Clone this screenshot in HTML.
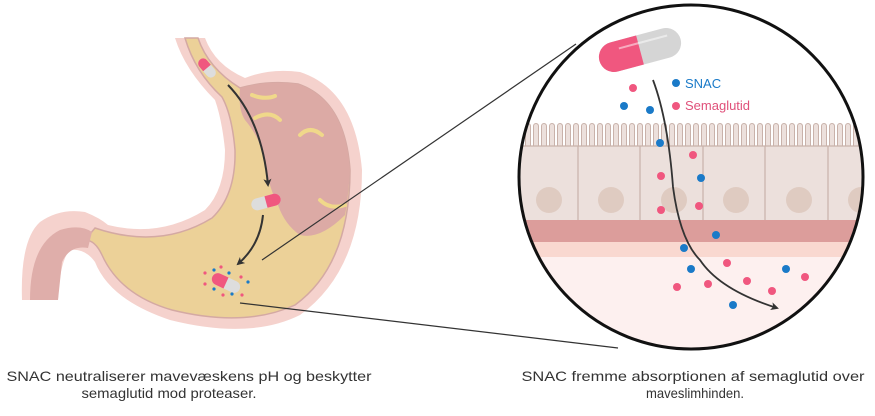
<!DOCTYPE html>
<html><head><meta charset="utf-8"><style>
html,body{margin:0;padding:0;background:#fff;width:875px;height:416px;overflow:hidden}
text{font-family:"Liberation Sans",sans-serif}
</style></head><body>
<svg width="875" height="416" viewBox="0 0 875 416" xmlns="http://www.w3.org/2000/svg">
<defs>
<clipPath id="c"><circle cx="691" cy="177" r="172"/></clipPath>
<marker id="ah" markerWidth="8" markerHeight="8" refX="6" refY="4" orient="auto" markerUnits="userSpaceOnUse"><path d="M0,0 L8,4 L0,8 L2,4 Z" fill="#333"/></marker>
<pattern id="villi" x="500" y="120" width="8" height="30" patternUnits="userSpaceOnUse">
<rect x="0" y="0" width="8" height="30" fill="#fff"/>
<path d="M1.5,30 V6 A2.5,2.5 0 0 1 6.5,6 V30 Z" fill="#ece0dc" stroke="#c9b2aa" stroke-width="1"/>
</pattern>
</defs>
<!-- stomach -->
<path d="M175,38 L205,38 Q215,65 245,78 Q270,68 300,72 Q355,90 362,170 Q362,270 300,315 Q250,340 170,320 Q110,300 95,262 Q85,248 70,250 Q60,260 58,300 L22,300 Q20,240 40,222 Q60,208 85,212 Q100,218 108,225 Q160,238 205,210 Q225,190 225,150 Q222,120 215,100 Q185,70 175,38 Z" fill="#f5d2cd"/>
<path d="M185,38 L198,38 Q208,68 240,88 Q268,80 298,84 Q345,100 350,170 Q350,265 295,305 Q245,328 172,310 Q120,295 102,255 Q95,240 85,240 L95,228 Q160,250 212,218 Q236,195 235,150 Q232,115 222,97 Q195,72 185,38 Z" fill="#ecd198" stroke="#d4a9a3" stroke-width="1.5"/>
<path d="M240,88 Q268,80 298,84 Q345,100 350,170 Q348,200 345,215 Q320,240 300,235 Q285,225 278,205 Q270,190 265,165 Q262,140 245,120 Q238,110 240,88 Z" fill="#dcaaa5"/>
<path d="M252,95 Q265,100 275,96 M255,118 Q270,110 280,120 M300,135 Q310,125 322,135 M320,200 Q330,210 345,205" stroke="#f0d88a" stroke-width="4" fill="none" stroke-linecap="round"/>
<path d="M30,300 Q30,245 60,230 Q80,224 92,232 L88,248 Q70,245 62,262 L58,300 Z" fill="#dfaeaa"/>
<!-- capsules in stomach -->
<g transform="translate(207,68) rotate(50)"><rect x="-11" y="-5" width="22" height="10" rx="5" fill="#ddd"/><path d="M-6,-5 L0,-5 L0,5 L-6,5 A5,5 0 0 1 -6,-5Z" fill="#f0577f"/></g>
<g transform="translate(266,202) rotate(-15)"><rect x="-15" y="-6" width="30" height="12" rx="6" fill="#ddd"/><path d="M0,-6 L9,-6 A6,6 0 0 1 9,6 L0,6Z" fill="#f0577f"/></g>
<g transform="translate(226,283) rotate(25)"><rect x="-15" y="-6" width="30" height="12" rx="6" fill="#ddd"/><path d="M-9,-6 L0,-6 L0,6 L-9,6 A6,6 0 0 1 -9,-6Z" fill="#f0577f"/></g>
<g fill="#f0577f"><circle cx="205" cy="273" r="1.6"/><circle cx="221" cy="267" r="1.6"/><circle cx="241" cy="277" r="1.6"/><circle cx="205" cy="284" r="1.6"/><circle cx="223" cy="295" r="1.6"/><circle cx="242" cy="295" r="1.6"/></g>
<g fill="#1a7ac8"><circle cx="214" cy="270" r="1.6"/><circle cx="229" cy="273" r="1.6"/><circle cx="248" cy="282" r="1.6"/><circle cx="214" cy="289" r="1.6"/><circle cx="232" cy="294" r="1.6"/></g>
<path d="M228,85 Q262,120 268,185" stroke="#333" stroke-width="2" fill="none" marker-end="url(#ah)"/>
<path d="M263,215 Q260,245 238,264" stroke="#333" stroke-width="2" fill="none" marker-end="url(#ah)"/>
<!-- zoom lines -->
<line x1="262" y1="260" x2="576" y2="44" stroke="#333" stroke-width="1.2"/>
<line x1="240" y1="303" x2="618" y2="348" stroke="#333" stroke-width="1.2"/>
<!-- circle -->
<circle cx="691" cy="177" r="172" fill="#fff"/>
<g clip-path="url(#c)">
<rect x="500" y="121" width="380" height="27" fill="url(#villi)"/>
<rect x="500" y="146" width="380" height="76" fill="#ece0dc"/>
<g stroke="#c9b2aa" stroke-width="1.2" fill="none">
<path d="M500,146 H880"/>
<path d="M516,146 V222 M578,146 V222 M640,146 V222 M703,146 V222 M765,146 V222 M828,146 V222"/>
</g>
<g fill="#dfcbc1"><circle cx="549" cy="200" r="13"/><circle cx="611" cy="200" r="13"/><circle cx="674" cy="200" r="13"/><circle cx="736" cy="200" r="13"/><circle cx="799" cy="200" r="13"/><circle cx="861" cy="200" r="13"/></g>
<rect x="500" y="220" width="380" height="22" fill="#dc9d9b"/>
<rect x="500" y="242" width="380" height="15" fill="#f9d8d0"/>
<rect x="500" y="257" width="380" height="100" fill="#fdf0ef"/>
</g>
<circle cx="691" cy="177" r="172" fill="none" stroke="#111" stroke-width="3"/>
<!-- big capsule -->
<g transform="translate(640,50) rotate(-15)"><rect x="-42" y="-15" width="84" height="30" rx="15" fill="#d5d5d5"/><path d="M0,-15 L-27,-15 A15,15 0 0 0 -27,15 L0,15 Z" fill="#f0577f"/><path d="M-20,-7 H30" stroke="#fff" stroke-width="2" opacity=".5"/></g>
<path d="M653,80 Q668,120 673,187 Q680,240 700,260 Q720,290 777,308" stroke="#333" stroke-width="1.8" fill="none" marker-end="url(#ah)"/>
<g fill="#f0577f">
<circle cx="633" cy="88" r="4"/><circle cx="676" cy="106" r="4"/><circle cx="693" cy="155" r="4"/><circle cx="661" cy="176" r="4"/><circle cx="661" cy="210" r="4"/><circle cx="699" cy="206" r="4"/><circle cx="727" cy="263" r="4"/><circle cx="677" cy="287" r="4"/><circle cx="708" cy="284" r="4"/><circle cx="747" cy="281" r="4"/><circle cx="772" cy="291" r="4"/><circle cx="805" cy="277" r="4"/>
</g>
<g fill="#1a7ac8">
<circle cx="676" cy="83" r="4"/><circle cx="624" cy="106" r="4"/><circle cx="650" cy="110" r="4"/><circle cx="660" cy="143" r="4"/><circle cx="701" cy="178" r="4"/><circle cx="716" cy="235" r="4"/><circle cx="684" cy="248" r="4"/><circle cx="691" cy="269" r="4"/><circle cx="733" cy="305" r="4"/><circle cx="786" cy="269" r="4"/>
</g>
<text x="685" y="88" font-size="13" fill="#1a7ac8">SNAC</text>
<text x="685" y="110" font-size="13" fill="#e0507a">Semaglutid</text>
<!-- captions -->
<g font-size="14" fill="#333" text-anchor="middle">
<text x="189" y="381" textLength="365" lengthAdjust="spacingAndGlyphs">SNAC neutraliserer mavevæskens pH og beskytter</text>
<text x="169" y="398" textLength="175" lengthAdjust="spacingAndGlyphs">semaglutid mod proteaser.</text>
<text x="693" y="381" textLength="343" lengthAdjust="spacingAndGlyphs">SNAC fremme absorptionen af semaglutid over</text>
<text x="695" y="398" textLength="98" lengthAdjust="spacingAndGlyphs">maveslimhinden.</text>
</g>
</svg>
</body></html>
